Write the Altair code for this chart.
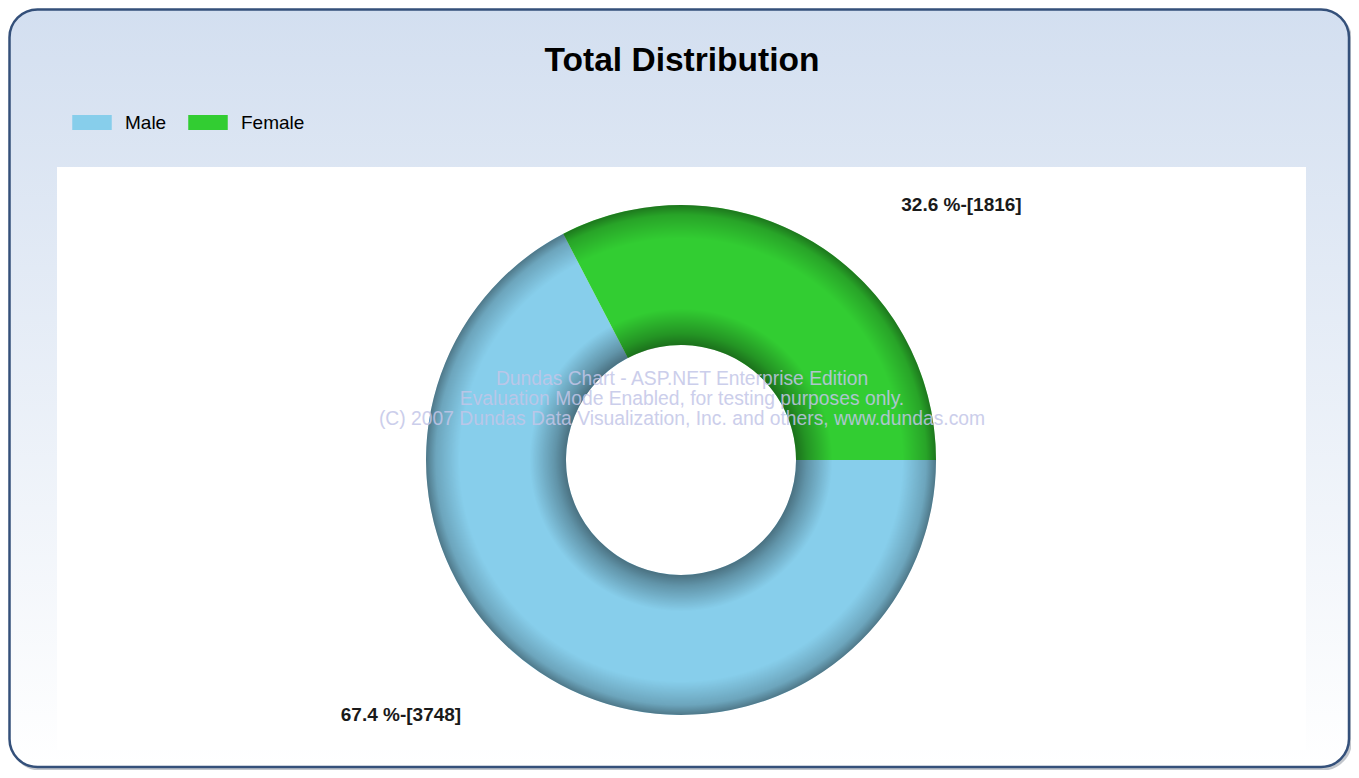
import math
import altair as alt
import pandas as pd

# ---- data ----
categories = ["Male", "Female"]
counts = [3748, 1816]
percents = [67.4, 32.6]
colors = ["#87CEEB", "#32CD32"]
title_text = "Total Distribution"
watermark_lines = [
    "Dundas Chart - ASP.NET Enterprise Edition",
    "Evaluation Mode Enabled, for testing purposes only.",
    "(C) 2007 Dundas Data Visualization, Inc. and others, www.dundas.com",
]

# ---- layout ----
W, H = 1343, 762
CX, CY = 673, 452
R_OUT, R_IN = 255, 115
label_pos = {"Female": (953.5, 203), "Male": (393, 713)}
FONT = "Liberation Sans"

df = pd.DataFrame({
    "category": categories,
    "count": counts,
    "pct": percents,
    "order": list(range(len(categories))),
})
df["label"] = [f"{p:.1f} %-[{c}]" for p, c in zip(percents, counts)]
one = pd.DataFrame({"k": [0]})

panel_grad = alt.LinearGradient(
    gradient="linear",
    stops=[alt.GradientStop(color="#d3dff0", offset=0),
           alt.GradientStop(color="#ffffff", offset=1)],
    x1=0, x2=0, y1=0, y2=1,
)

shadow = alt.Chart(one).mark_rect(
    cornerRadius=28, fill="none", stroke="#8f98a3", strokeWidth=3, opacity=0.55
).encode(x=alt.value(4), x2=alt.value(1342.5), y=alt.value(4), y2=alt.value(761))

panel = alt.Chart(one).mark_rect(
    cornerRadius=28, fill=panel_grad, stroke="#34507a", strokeWidth=2.5
).encode(x=alt.value(1.5), x2=alt.value(1341), y=alt.value(1.5), y2=alt.value(759))

plotbg = alt.Chart(one).mark_rect(fill="#ffffff").encode(
    x=alt.value(49), x2=alt.value(1298), y=alt.value(159), y2=alt.value(742)
)

title = alt.Chart(one).mark_text(
    text=title_text, font=FONT, fontSize=33.5, fontWeight="bold", color="#000000",
    align="center", baseline="alphabetic"
).encode(x=alt.value(674), y=alt.value(63))

donut = alt.Chart(df).mark_arc(radius=R_OUT, radius2=R_IN).encode(
    theta=alt.Theta("count:Q", stack=True,
                    scale=alt.Scale(range=[math.pi / 2, math.pi / 2 + 2 * math.pi])),
    color=alt.Color(
        "category:N",
        scale=alt.Scale(domain=categories, range=colors),
        legend=alt.Legend(
            title=None, orient="none", legendX=64, legendY=94.5,
            direction="horizontal",
            symbolType="M-1,-0.38H1V0.38H-1Z", symbolSize=1560,
            symbolStrokeWidth=0, symbolOpacity=1,
            labelFont=FONT, labelFontSize=19, labelColor="#000000",
            labelOffset=13, columnPadding=21, padding=0, offset=0,
        ),
    ),
    order=alt.Order("order:Q"),
    x=alt.value(CX),
    y=alt.value(CY),
)

r1 = R_IN / (2 * R_OUT)
shade_grad = alt.RadialGradient(
    gradient="radial",
    stops=[
        alt.GradientStop(color="rgba(0,0,0,0.45)", offset=0),
        alt.GradientStop(color="rgba(0,0,0,0.28)", offset=0.08),
        alt.GradientStop(color="rgba(0,0,0,0.0)", offset=0.26),
        alt.GradientStop(color="rgba(0,0,0,0.0)", offset=0.76),
        alt.GradientStop(color="rgba(0,0,0,0.2)", offset=0.93),
        alt.GradientStop(color="rgba(0,0,0,0.42)", offset=1),
    ],
    x1=0.5, y1=0.5, r1=r1, x2=0.5, y2=0.5, r2=0.5,
)
shade = alt.Chart(one).mark_arc(
    radius=R_OUT, radius2=R_IN, theta=0, theta2=2 * math.pi, fill=shade_grad
).encode(x=alt.value(CX), y=alt.value(CY))

watermark = alt.Chart(one).mark_text(
    text=watermark_lines, font=FONT, fontSize=19.3, lineHeight=20,
    color="#c3c6e8", opacity=0.85, align="center", baseline="middle"
).encode(x=alt.value(674), y=alt.value(371))

label_layers = []
for cat in categories:
    lx, ly = label_pos[cat]
    label_layers.append(
        alt.Chart(df).transform_filter(alt.datum.category == cat).mark_text(
            font=FONT, fontSize=19, fontWeight="bold", color="#1a1a1a",
            align="center", baseline="alphabetic"
        ).encode(x=alt.value(lx), y=alt.value(ly), text="label:N")
    )

chart = alt.layer(
    shadow, panel, plotbg, title, donut, shade, watermark, *label_layers
).properties(
    width=W, height=H, padding=0, autosize="none", background="white"
).configure_view(stroke=None)

chart.save("out.html", embed_options={"renderer": "svg", "actions": False})
